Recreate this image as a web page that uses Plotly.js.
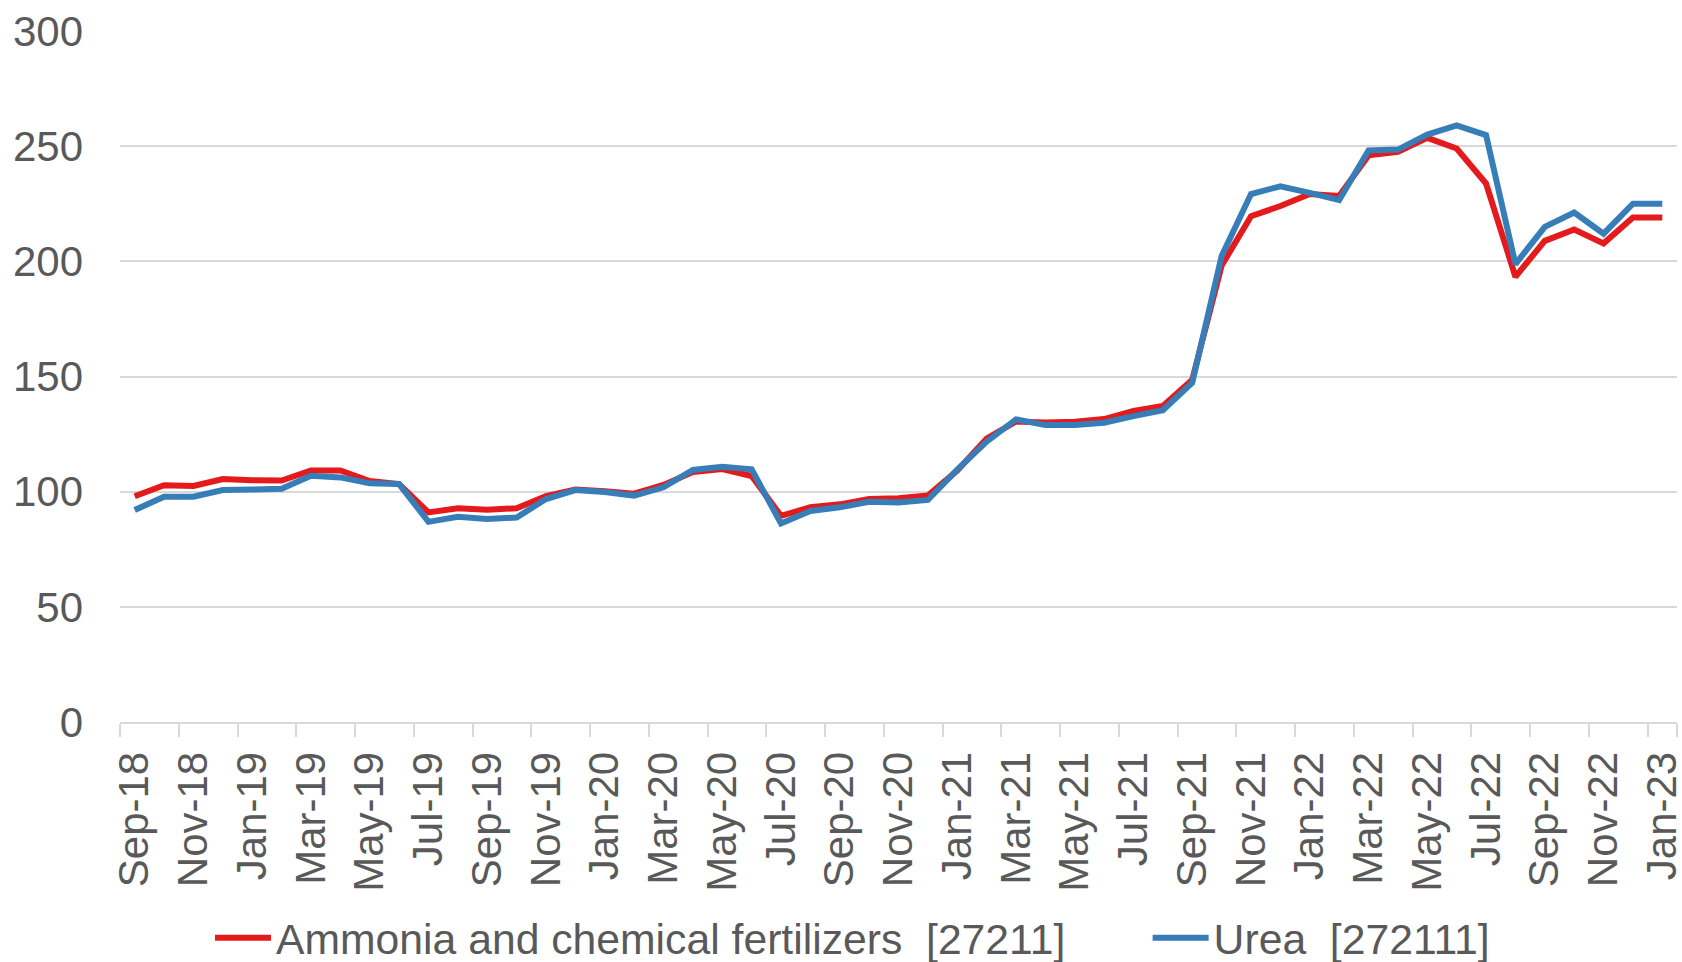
<!DOCTYPE html>
<html>
<head>
<meta charset="utf-8">
<script src="https://cdn.plot.ly/plotly-3.0.1.min.js"></script>
<style>
html,body{margin:0;padding:0;background:#fff;}
#chart{width:1682px;height:962px;}
</style>
</head>
<body>
<div id="chart"></div>
<script>
var months = ["Sep-18","Oct-18","Nov-18","Dec-18","Jan-19","Feb-19","Mar-19","Apr-19","May-19","Jun-19",
  "Jul-19","Aug-19","Sep-19","Oct-19","Nov-19","Dec-19","Jan-20","Feb-20","Mar-20","Apr-20",
  "May-20","Jun-20","Jul-20","Aug-20","Sep-20","Oct-20","Nov-20","Dec-20","Jan-21","Feb-21",
  "Mar-21","Apr-21","May-21","Jun-21","Jul-21","Aug-21","Sep-21","Oct-21","Nov-21","Dec-21",
  "Jan-22","Feb-22","Mar-22","Apr-22","May-22","Jun-22","Jul-22","Aug-22","Sep-22","Oct-22",
  "Nov-22","Dec-22","Jan-23"];

var ammonia = [98.0,102.8,102.5,105.5,105.0,104.8,109.2,109.2,104.6,103.3,
  91.0,92.8,92.1,92.8,98.1,100.9,100.2,99.1,102.9,108.5,
  109.8,106.8,89.5,93.2,94.5,96.8,97.1,98.3,109.2,123.0,
  130.5,130.0,130.4,131.5,135.1,137.2,148.6,198.2,219.6,224.0,
  229.2,228.4,246.0,247.5,253.6,249.0,233.8,193.3,208.9,213.8,
  207.8,219.0,219.0];

var urea = [92.0,97.8,97.8,100.7,100.9,101.3,106.9,106.2,103.6,103.3,
  86.9,89.1,88.1,88.8,96.8,100.7,99.9,98.3,101.9,109.4,
  110.8,109.7,86.2,91.6,93.2,95.6,95.3,96.4,109.6,121.7,
  131.4,128.9,128.9,129.9,132.8,135.4,147.3,202.3,229.2,232.6,
  229.7,226.6,248.1,248.5,255.0,259.0,254.8,198.8,215.0,221.2,
  212.0,225.0,225.0];

var seriesNames = ["Ammonia and chemical fertilizers\u00a0\u00a0[27211]", "Urea\u00a0\u00a0[272111]"];
var seriesColors = ["#E41A1C", "#377EB8"];

var tickLabels = months.filter(function(m, i){ return i % 2 === 0; });
var yTicks = [0, 50, 100, 150, 200, 250, 300];

var fontFam = 'Arial, "Liberation Sans", sans-serif';
var txtColor = '#595959';
var fs = 42;

var traces = [
  {x: months, y: ammonia, type: 'scatter', mode: 'lines', name: seriesNames[0],
   line: {color: seriesColors[0], width: 6}, legend: 'legend'},
  {x: months, y: urea, type: 'scatter', mode: 'lines', name: seriesNames[1],
   line: {color: seriesColors[1], width: 6}, legend: 'legend2'}
];

function legendAt(xp) {
  return {
    orientation: 'h', x: xp, xanchor: 'left', y: -0.3125, yanchor: 'middle',
    font: {family: fontFam, size: 42.7, color: txtColor},
    itemwidth: 56, bgcolor: 'rgba(0,0,0,0)', borderwidth: 0
  };
}

var layout = {
  width: 1682, height: 962,
  margin: {l: 120, r: 5, t: 31, b: 240, autoexpand: false},
  paper_bgcolor: '#fff', plot_bgcolor: '#fff',
  font: {family: fontFam, size: fs, color: txtColor},
  showlegend: true,
  legend: legendAt(0.0578),
  legend2: legendAt(0.660),
  xaxis: {
    type: 'category', categoryorder: 'array', categoryarray: months,
    range: [-0.5, months.length - 0.5],
    tickmode: 'array', tickvals: tickLabels, ticktext: tickLabels,
    tickangle: -90, tickson: 'boundaries',
    ticks: 'outside', ticklen: 13, tickwidth: 2, tickcolor: '#D9D9D9',
    showline: true, linecolor: '#D9D9D9', linewidth: 2,
    showgrid: false, zeroline: false,
    ticklabelstandoff: 11, automargin: false,
    tickfont: {family: fontFam, size: fs, color: txtColor}
  },
  yaxis: {
    range: [0, 300], tickmode: 'array', tickvals: yTicks,
    showgrid: true, gridcolor: '#D9D9D9', gridwidth: 2,
    zeroline: false, showline: false, ticks: '',
    ticklabelstandoff: 36, automargin: false,
    tickfont: {family: fontFam, size: fs, color: txtColor}
  }
};

Plotly.newPlot('chart', traces, layout, {displayModeBar: false, staticPlot: true});
</script>
</body>
</html>
